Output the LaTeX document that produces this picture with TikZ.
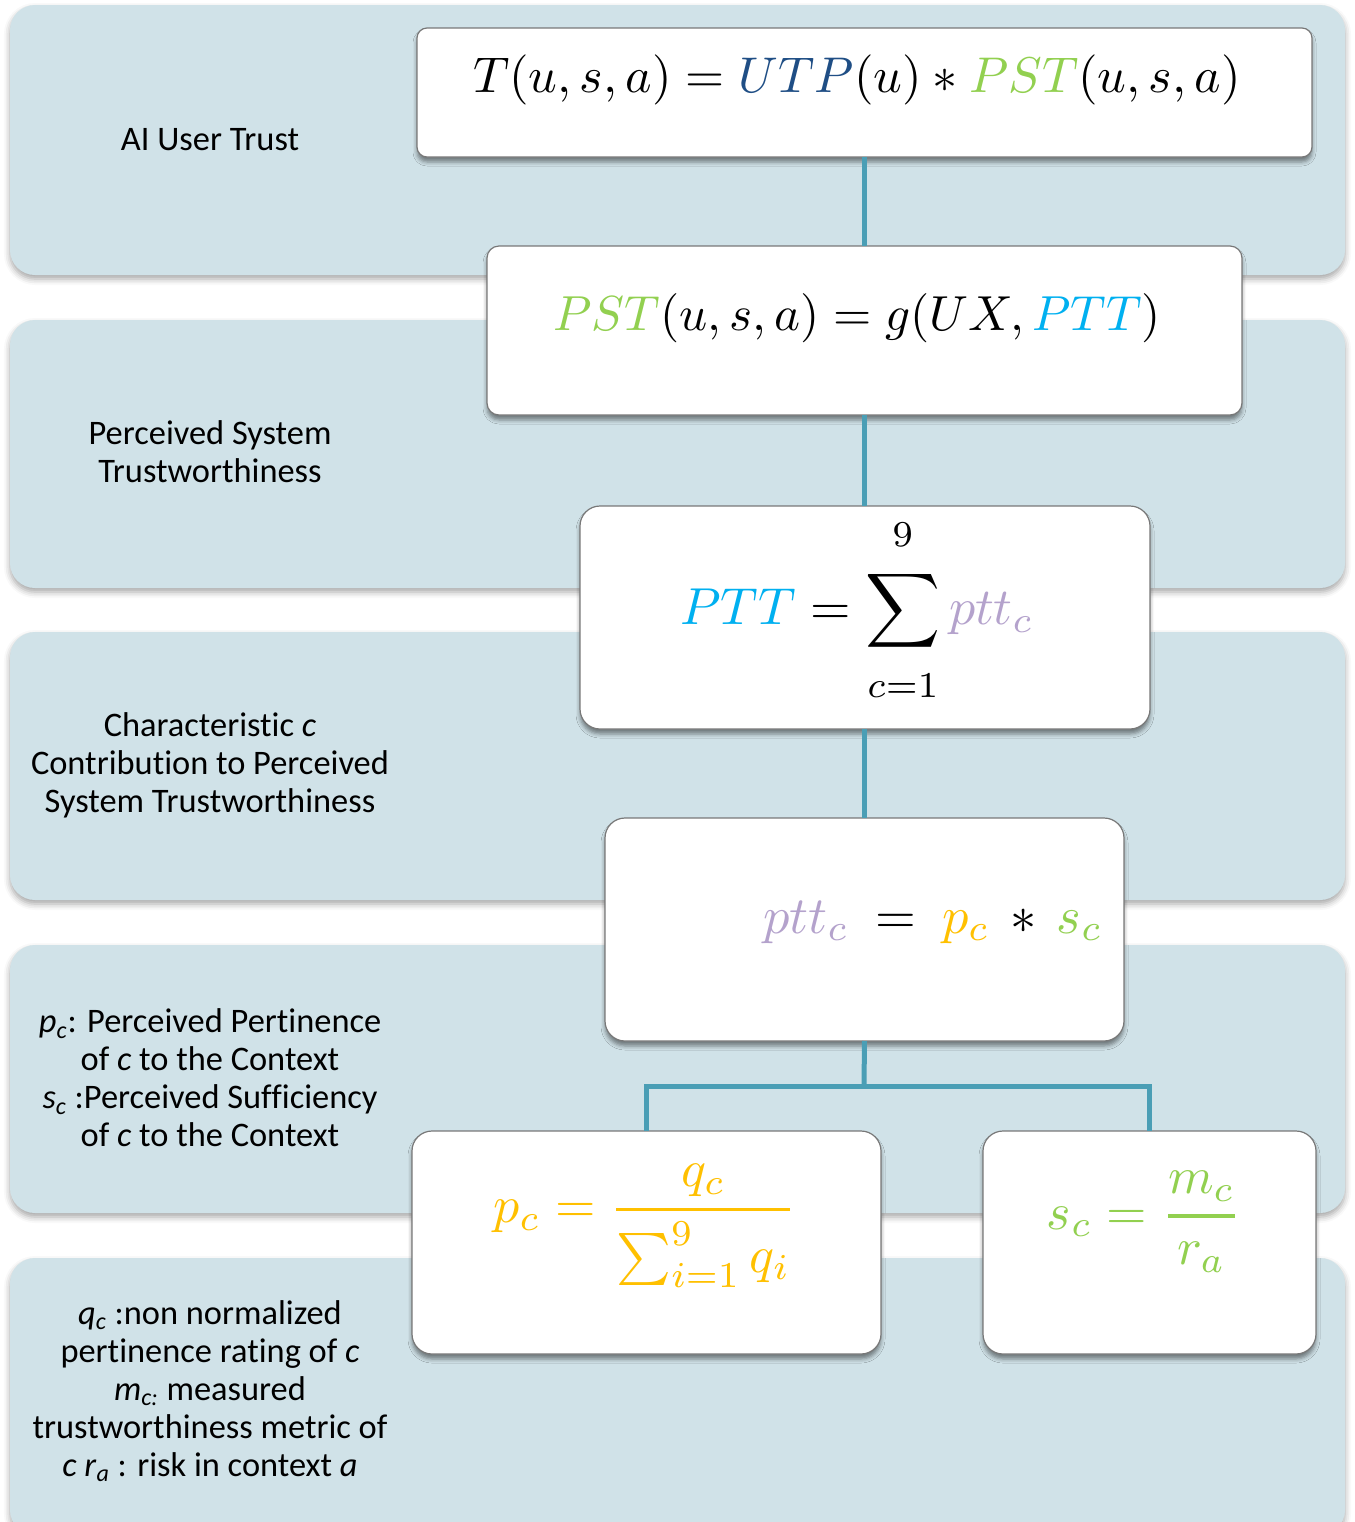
\documentclass[tikz,border=0pt]{standalone}
\usepackage{amsmath}
\usepackage{fontspec}
\setmainfont{Carlito}[Ligatures=NoCommon]
\usetikzlibrary{shadows.blur}

\definecolor{bandfill}{RGB}{208,226,232}
\definecolor{conncol}{RGB}{74,158,181}
\definecolor{boxline}{RGB}{120,120,120}
\definecolor{utp}{RGB}{31,78,133}
\definecolor{pst}{RGB}{146,208,80}
\definecolor{ptt}{RGB}{0,176,240}
\definecolor{pttc}{RGB}{180,162,204}
\definecolor{pcol}{RGB}{255,192,0}

\newcommand{\vsub}[2]{\textit{#1}\textsubscript{\textit{#2}}}
\newcommand{\bigeq}[2]{\scalebox{#1}{#2}}

\tikzset{
  band/.style={fill=bandfill, draw=none, rounded corners=12.5pt,
    blur shadow={shadow xshift=0pt, shadow yshift=-2pt, shadow blur radius=3pt, shadow opacity=35}},
  fbox/.style={fill=white, draw=boxline, line width=0.6pt, inner sep=0pt, outer sep=0pt,
    blur shadow={shadow xshift=0pt, shadow yshift=-2.5pt, shadow blur radius=2pt, shadow opacity=45}},
  conn/.style={draw=conncol, line width=2.5pt},
  lab/.style={align=center, font=\fontsize{17.2}{19}\selectfont, inner sep=0pt},
  eq/.style={inner sep=0pt},
}

\begin{document}
\begin{tikzpicture}[x=0.5pt, y=-0.5pt]
\useasboundingbox (0,0) rectangle (1355,1522);

% horizontal background bands
\fill[band] (10,5) rectangle (1345,275);
\fill[band] (10,320) rectangle (1345,588);
\fill[band] (10,632) rectangle (1345,900);
\fill[band] (10,945) rectangle (1345,1213);
\fill[band] (10,1258) rectangle (1345,1535);

% formula boxes
\node[fbox, rounded corners=5pt, minimum width=447.5pt, minimum height=64.5pt] (b1) at (864.5,92.5) {};
\node[fbox, rounded corners=6pt, minimum width=377.5pt, minimum height=84.5pt] (b2) at (864.5,330.5) {};
\node[fbox, rounded corners=10pt, minimum width=285pt, minimum height=111.5pt] (b3) at (865,617.5) {};
\node[fbox, rounded corners=10pt, minimum width=259.5pt, minimum height=111.5pt] (b4) at (864.5,929.5) {};
\node[fbox, rounded corners=10pt, minimum width=234.5pt, minimum height=111.5pt] (b5) at (646.5,1242.5) {};
\node[fbox, rounded corners=10pt, minimum width=166.5pt, minimum height=111.5pt] (b6) at (1149.5,1242.5) {};

% connectors
\coordinate (j) at (864,1086);
\draw[conn] (b1.south) -- (b2.north);
\draw[conn] (b2.south) -- (b2.south |- b3.north);
\draw[conn] (b2.south |- b3.south) -- (b2.south |- b4.north);
\draw[conn] (b2.south |- b4.south) -- (j);
\draw[conn] (b5.north) |- (j) -| (b6.north);

% formulas
\node[eq] (f1) at (857,80) {\bigeq{2.51}{$T(u,s,a) = \textcolor{utp}{UTP}(u) * \textcolor{pst}{PST}(u,s,a)$}};
\node[eq] (f2) at (857,318) {\bigeq{2.46}{$\textcolor{pst}{PST}(u,s,a) = g(UX, \textcolor{ptt}{PTT})$}};
\node[eq] (f3) at (857,610) {\bigeq{2.6}{$\displaystyle \textcolor{ptt}{PTT} = \sum_{\raisebox{-2.5pt}{$\scriptstyle c=1$}}^{\raisebox{2.5pt}{$\scriptstyle 9$}} \textcolor{pttc}{ptt_c}$}};
\node[eq] (f4) at (933,922) {\bigeq{2.62}{$\textcolor{pttc}{ptt_c} \:=\: \textcolor{pcol}{p_c} \,*\, \textcolor{pst}{s_c}$}};
\node[eq, text=pcol] (f5) at (645,1226) {\bigeq{2.6}{$\displaystyle p_c = \genfrac{}{}{0.7pt}{}{q_c}{\sum_{i=1}^{9} q_i}$}};
\node[eq, text=pst] (f6) at (1144,1222) {\bigeq{2.6}{$\displaystyle s_c = \genfrac{}{}{0.7pt}{}{m_c}{r_a}$}};

% row labels
\node[lab] (l1) at (210,140) {AI User Trust};
\node[lab] (l2) at (210,452) {Perceived System\\Trustworthiness};
\node[lab] (l3) at (210,765) {Characteristic \textit{c}\\Contribution to Perceived\\System Trustworthiness};
\node[lab] (l4) at (210,1078) {\vsub{p}{c}: Perceived Pertinence\\of \textit{c} to the Context\\\vsub{s}{c} :Perceived Sufficiency\\of \textit{c} to the Context};
\node[lab] (l5) at (210,1391) {\vsub{q}{c} :non normalized\\pertinence rating of \textit{c}\\\vsub{m}{c:} measured\\trustworthiness metric of\\\textit{c} \vsub{r}{a} : risk in context \textit{a}};
\end{tikzpicture}
\end{document}
